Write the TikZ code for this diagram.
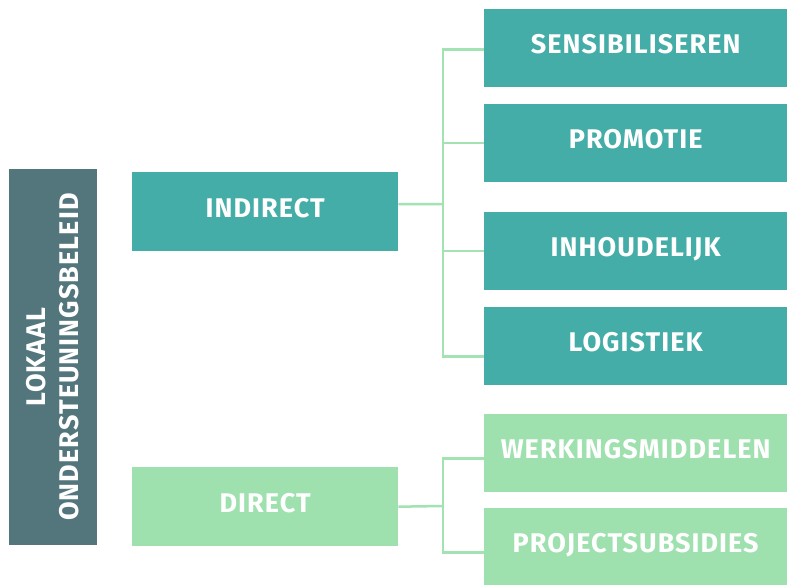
\documentclass[tikz,border=0pt]{standalone}
\usepackage{fontspec}
\setmainfont{Fira Sans}

\definecolor{tealbox}{HTML}{45ADA8}
\definecolor{greenbox}{HTML}{9FE0AF}
\definecolor{slatebox}{HTML}{52767C}
\definecolor{linkline}{HTML}{A3E2B3}

\begin{document}
\begin{tikzpicture}[x=1pt,y=-1pt,
    box/.style={fill=#1, text=white, inner sep=0pt, anchor=north west,
        text height=19pt, text depth=8pt,
        font=\fontsize{27}{33}\selectfont\bfseries\addfontfeature{LetterSpace=4}},
    wide/.style={minimum width=266pt, minimum height=79pt},
    leaf/.style={minimum width=303pt, minimum height=78pt},
    link/.style={draw=linkline, line width=2.5pt}]
    \useasboundingbox (0,0) rectangle (787,585);

    % Left column
    \node[box=slatebox, rotate=90, anchor=center, align=center,
          text height=, text depth=,
          minimum width=376pt, minimum height=88pt] (lokaal) at (53,357)
          {LOKAAL\\ONDERSTEUNINGSBELEID};

    % Middle column
    \node[box=tealbox, wide] (indirect) at (132,172) {INDIRECT};
    \node[box=greenbox, wide] (direct) at (132,467) {DIRECT};

    % Right column
    \node[box=tealbox, leaf] (sens) at (484,9) {SENSIBILISEREN};
    \node[box=tealbox, leaf] (promo) at (484,104) {PROMOTIE};
    \node[box=tealbox, leaf] (inhoud) at (484,212) {INHOUDELIJK};
    \node[box=tealbox, leaf] (logi) at (484,307) {LOGISTIEK};
    \node[box=greenbox, leaf] (werk) at (484,414) {WERKINGSMIDDELEN};
    \node[box=greenbox, leaf, minimum height=77pt] (proj) at (484,508) {PROJECTSUBSIDIES};

    % Connectors
    \coordinate (ijoint) at (443,204);
    \coordinate (djoint) at (443,506);
    \draw[link] ([yshift=7.5pt]indirect.east) -- (ijoint);
    \draw[link] ([yshift=-1.5pt]sens.west) -| (ijoint) |- ([yshift=-10.5pt]logi.west);
    \draw[link] (ijoint |- promo.west) -- (promo.west);
    \draw[link] (ijoint |- inhoud.west) -- (inhoud.west);
    \draw[link] (direct.east) -- (djoint);
    \draw[link] ([yshift=-5.5pt]werk.west) -| (djoint) |- ([yshift=-6pt]proj.west);
\end{tikzpicture}
\end{document}
